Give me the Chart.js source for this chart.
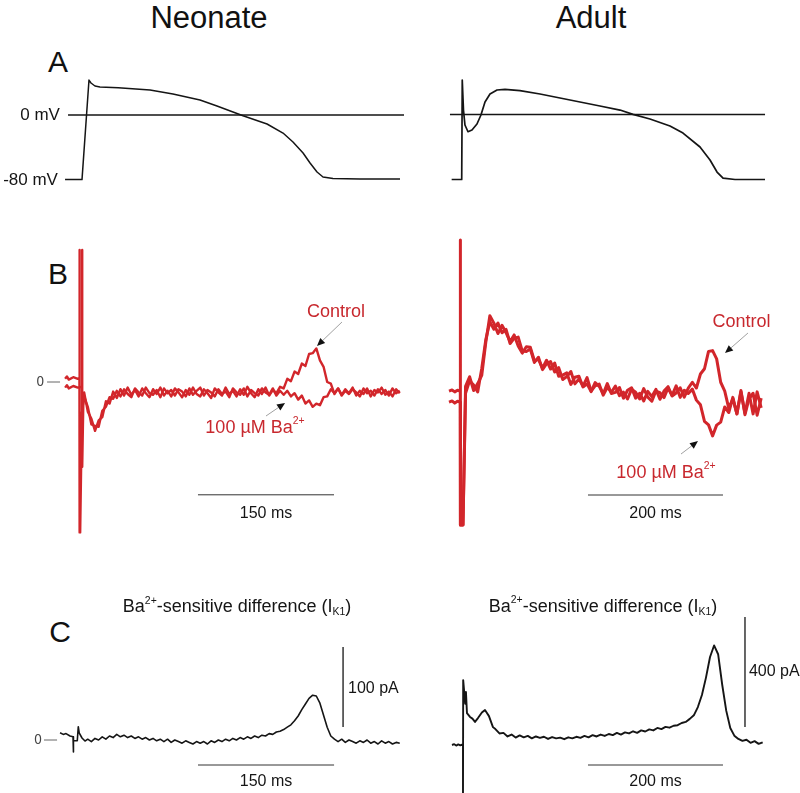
<!DOCTYPE html>
<html>
<head>
<meta charset="utf-8">
<script src="https://cdn.jsdelivr.net/npm/chart.js@4.4.1/dist/chart.umd.min.js"></script>
<style>
  body { margin: 0; background: #fff; width: 800px; height: 793px; position: relative; overflow: hidden;
         font-family: Arial, 'Liberation Sans', sans-serif; color: #111; }
  canvas { position: absolute; }
  .lbl { position: absolute; text-align: center; line-height: 36px; height: 36px; }
</style>
</head>
<body>
<div class="lbl" style="left:109px;top:0;width:200px;font-size:31px">Neonate</div>
<div class="lbl" style="left:491px;top:0;width:200px;font-size:31px">Adult</div>
<div class="lbl" style="left:38px;top:44px;width:40px;font-size:30px">A</div>
<div class="lbl" style="left:38px;top:256px;width:40px;font-size:30px">B</div>
<div class="lbl" style="left:40px;top:614px;width:40px;font-size:30px">C</div>

<canvas id="aNeo"></canvas>
<canvas id="aAdu"></canvas>
<canvas id="bNeo"></canvas>
<canvas id="bAdu"></canvas>
<canvas id="cNeo"></canvas>
<canvas id="cAdu"></canvas>

<script>
// ---- A: action potentials, [ms, mV] ----
const neoAP = [[-18.7,-79.5],[0,-79.5],[7.7,43],[9.9,39.4],[14.3,35.7],[19.8,34.5],[40,33.5],[75,30.8],
  [100.3,25.8],[130.1,18.5],[148.8,11.1],[177.5,-0.9],[204,-11.1],[221.6,-22.2],[232.6,-33.2],[243.7,-46.8],
  [251.4,-59.1],[259.1,-70.2],[265.7,-76.3],[276.7,-78.2],[306.5,-78.8],[350.6,-78.8]];
const aduAP = [[-15.3,-80],[-0.4,-80],[0.4,42.5],[2.2,5.5],[4.4,-12.9],[8.9,-21.2],[14.8,-19.1],[22.2,-11.7],
  [28.1,-0.6],[34.1,15.4],[41.5,25.2],[51.9,30.2],[63.7,31],[85.9,29.5],[115.6,25.2],[145.2,20.3],[174.8,15.4],
  [204.4,10.5],[234.1,5.5],[253.3,0.2],[278.5,-5.5],[308.1,-14.2],[327.4,-22.8],[352.6,-40],[367.4,-56],
  [377.8,-70.8],[386.7,-78.2],[404.4,-80],[448.9,-80]];
const neoZeroMV = [[-15.4,0],[355,0]];
const aduZeroMV = [[-17.8,0],[448.9,0]];

// ---- B: membrane current during AP clamp, [ms, pA] ----
// stimulus + pre-pulse segments, then traces sampled every 4 ms (neonate) / 6 ms (adult)
const neoCtrlStim = [[-17,4],[-15,7],[-13,3],[-8,6],[-3,4],[-1.2,5],[-1.2,165],[-0.8,-188],[-0.4,-188],[1.5,-40]];
const neoBaStim = [[-17,-7],[-15,-4],[-13,-8],[-8,-5],[-3,-7],[1.7,-6],[1.7,165],[2.0,-106],[3,-30]];
const neoSample = { t0: 4, dt: 4 };
const neoCtrl = [-13,-37,-46,-61,-48,-44,-24,-27,-12,-20,
  -9,-17,-7,-16,-10,-18,-8,-14,-19,-9,
  -15,-7,-17,-11,-18,-8,-13,-19,-10,-16,
  -7,-15,-18,-9,-14,-20,-8,-13,-17,-7,
  -15,-11,-18,-9,-16,-6,-14,-19,-9,-15,
  -7,-17,-10,-14,-6,-8,4,1,13,10,
  23,20,35,36,42,27,19,0,-2,-15,
  -8,-16,-9,-14,-7,-17,-11,-15,-8,-18,
  -10,-13,-7,-16,-12,-18,-9,-14];
const neoBa = [-18,-31,-53,-55,-56,-36,-31,-19,-21,-11,
  -18,-9,-15,-19,-8,-13,-17,-7,-14,-16,
  -10,-19,-8,-14,-10,-17,-9,-12,-18,-8,
  -16,-11,-7,-17,-10,-13,-18,-9,-15,-12,
  -19,-8,-13,-16,-8,-18,-10,-14,-17,-8,
  -13,-16,-8,-17,-11,-16,
  -11,-18,-14,-22,-17,-27,-23,-31,-27,-29,
  -19,-18,-9,-14,-8,-17,-11,-15,-9,-13,
  -18,-8,-14,-11,-17,-9,-15,-10,-17,-8,-14,-11];

const aduCtrlStim = [[-18.5,18],[-14,22],[-10,15],[-6,21],[-1.8,18],[-1.8,567],[-1.5,-469],[2.2,-469]];
const aduBaStim = [[-18.5,-22],[-14,-18],[-10,-26],[-6,-19],[-1.8,-22],[-1.5,-469],[2.2,-469]];
const aduSample = { t0: 6, dt: 6 };
const aduCtrl = [35,70,20,45,75,195,292,
  265,227,257,230,198,222,182,156,179,177,
  128,133,101,130,98,120,72,76,84,42,
  68,72,33,44,16,49,35,8,45,9,
  13,31,-8,21,30,-8,10,-18,17,-2,
  24,-12,18,34,0,11,30,-4,29,50,
  29,80,99,162,165,135,50,18,-45,-10,
  -65,20,-68,-10,10,-70,-8];
const aduBa = [10,55,40,15,100,205,270,
  243,265,230,242,191,210,214,164,162,171,
  122,141,96,118,125,87,103,60,71,89,
  44,62,36,67,18,37,43,3,32,13,
  36,1,14,-11,25,14,-11,27,-4,-19,
  18,12,-6,29,2,37,-5,21,9,25,
  -15,-32,-92,-105,-145,-106,-95,-40,-60,-5,
  -65,15,-63,10,-65,15,-43];

// ---- C: Ba2+-sensitive difference current, [ms, pA] ----
const neoDiffStim = [[-16.5,9],[-13,7],[-9.9,8],[-5.5,5],[-2.2,4],[-1.9,4],[-1.9,-15],[-1.4,-1],[2.5,-1],
  [3.6,16.6],[4.6,9],[7.7,2.5],[11,-1.3]];
const neoDiffSample = { t0: 14, dt: 4 };
const neoDiff = [1,-2,2,0,4,1,5,3,7,4,
  6,3,5,2,4,1,3,0,2,-1,
  1,-2,1,-3,0,-2,-4,-1,-3,-5,
  -2,-4,-2,-5,-1,-3,0,-2,1,-1,
  2,0,3,1,4,2,5,3,6,5,
  8,7,10,11,13,16,19,24,30,38,
  45,52,56,55,46,31,16,5,1,-2,
  1,-3,0,-2,-4,-1,-3,0,-4,-2,
  -5,-1,-4,-2,-5,-3,-4];
const aduDiffStim = [[-16.3,0],[-13,3],[-10,-2],[-7,2],[-4,-1],[-1.5,1],[0,0],[0,-200],[0.3,236],[3.3,150],
  [4.4,193],[5.9,116],[10.4,102],[14,96],[17.8,84],[22.2,98],[28,118],[32.6,127],[35,118],[38.5,105],[44.4,65]];
const aduDiffSample = { t0: 48, dt: 6 };
const aduDiff = [58,42,44,31,38,27,35,28,33,24,
  31,26,30,22,29,24,27,21,28,24,
  30,26,33,28,36,31,38,33,40,36,
  44,38,46,42,50,44,53,49,57,53,
  62,58,66,63,70,72,80,84,95,108,
  138,182,245,320,362,330,220,125,62,34,
  22,15,19,8,14,4,10];

// ---- scale bars & zero markers ----
const neoTimeBarB = [[129.5,-141],[279.5,-141]];   // 150 ms
const aduTimeBarB = [[187.4,-360],[387.4,-360]];   // 200 ms
const neoTimeBarC = [[135.6,-31.25],[285.6,-31.25]]; // 150 ms
const aduTimeBarC = [[185.2,-72.7],[385.2,-72.7]];   // 200 ms
const neoAmpBarC = [[295.5,16.25],[295.5,116.25]];   // 100 pA
const aduAmpBarC = [[417.8,65.5],[417.8,465.5]];     // 400 pA
const neoZeroB = [[-36.9,0],[-22.6,0]];
const neoZeroC = [[-34.2,0],[-19.8,0]];

// ---------------------------------------------------------------
const FONT = "Arial, 'Liberation Sans', sans-serif";
const NARROW = "'Liberation Sans Narrow', 'Arial Narrow', 'DejaVu Sans Condensed', sans-serif";
const RED = '#d2262b';
const RED_TXT = '#c8282e';
const INK = '#151515';

const pts = (arr) => arr.map(([x, y]) => ({ x, y }));
const sampled = (s, vals) => vals.map((y, i) => ({ x: s.t0 + i * s.dt, y }));

function line(data, color, width) {
  return { data, borderColor: color, borderWidth: width, pointRadius: 0, tension: 0, fill: false,
           borderJoinStyle: 'round' };
}

// text with optional super/subscript parts
function drawRich(ctx, parts, x, y, size, align, color, family) {
  const seg = parts.map((p) => {
    const s = (p.sup || p.sub) ? size * 0.58 : size;
    ctx.font = `${s}px ${family}`;
    return { ...p, s, w: ctx.measureText(p.t).width };
  });
  const total = seg.reduce((a, p) => a + p.w, 0);
  let cx = align === 'center' ? x - total / 2 : align === 'right' ? x - total : x;
  ctx.fillStyle = color;
  ctx.textBaseline = 'middle';
  ctx.textAlign = 'left';
  seg.forEach((p) => {
    ctx.font = `${p.s}px ${family}`;
    const dy = p.sup ? -size * 0.36 : p.sub ? size * 0.3 : 0;
    ctx.fillText(p.t, cx, y + dy);
    cx += p.w;
  });
}

// labels & arrows anchored at data coordinates
function notes(texts, arrows) {
  return {
    id: 'notes',
    afterDatasetsDraw(chart) {
      const { ctx, scales: { x, y } } = chart;
      ctx.save();
      (arrows || []).forEach((a) => {
        const x1 = x.getPixelForValue(a[0]), y1 = y.getPixelForValue(a[1]);
        const x2 = x.getPixelForValue(a[2]), y2 = y.getPixelForValue(a[3]);
        const ang = Math.atan2(y2 - y1, x2 - x1);
        const hx = x2 - 8 * Math.cos(ang), hy = y2 - 8 * Math.sin(ang);
        ctx.strokeStyle = '#a0a0a0';
        ctx.lineWidth = 1;
        ctx.beginPath(); ctx.moveTo(x1, y1); ctx.lineTo(hx, hy); ctx.stroke();
        ctx.fillStyle = '#111';
        ctx.beginPath();
        ctx.moveTo(x2, y2);
        ctx.lineTo(hx + 3.5 * Math.sin(ang), hy - 3.5 * Math.cos(ang));
        ctx.lineTo(hx - 3.5 * Math.sin(ang), hy + 3.5 * Math.cos(ang));
        ctx.closePath(); ctx.fill();
      });
      texts.forEach((t) => drawRich(ctx, t.parts, x.getPixelForValue(t.at[0]), y.getPixelForValue(t.at[1]),
        t.size, t.align || 'center', t.color || INK, t.family || FONT));
      ctx.restore();
    },
  };
}

// one borderless panel; box = [left, top, width, height] in page px
function panel(id, box, xr, yr, datasets, texts, arrows) {
  const c = document.getElementById(id);
  c.width = box[2]; c.height = box[3];
  Object.assign(c.style, { left: box[0] + 'px', top: box[1] + 'px', width: box[2] + 'px', height: box[3] + 'px' });
  return new Chart(c, {
    type: 'line',
    data: { datasets },
    options: {
      responsive: false,
      animation: false,
      events: [],
      layout: { padding: 0 },
      plugins: { legend: { display: false }, tooltip: { enabled: false } },
      scales: {
        x: { type: 'linear', display: false, min: xr[0], max: xr[1] },
        y: { type: 'linear', display: false, min: yr[0], max: yr[1] },
      },
    },
    plugins: [notes(texts, arrows)],
  });
}

const sup = (t) => ({ t, sup: true });
const sub = (t) => ({ t, sub: true });
const titleC = [{ t: 'Ba' }, sup('2+'), { t: '-sensitive difference (I' }, sub('K1'), { t: ')' }];
const baLabel = [{ t: '100 µM Ba' }, sup('2+')];

// A
panel('aNeo', [0, 40, 410, 160], [-90.4, 361.6], [-104.6, 92.3], [
  line(pts(neoZeroMV), INK, 1.3),
  line(pts(neoAP), INK, 1.5),
], [
  { parts: [{ t: '0 mV' }], at: [-24.3, 0], size: 17, align: 'right' },
  { parts: [{ t: '-80 mV' }], at: [-26.5, -80], size: 17, align: 'right' },
]);
panel('aAdu', [410, 40, 390, 160], [-77.0, 500.7], [-105.2, 91.7], [
  line(pts(aduZeroMV), INK, 1.3),
  line(pts(aduAP), INK, 1.7),
], []);

// B
panel('bNeo', [0, 230, 410, 310], [-88.8, 363.3], [-197.5, 190], [
  line(pts(neoZeroB), '#666', 1),
  line(pts(neoCtrlStim).concat(sampled(neoSample, neoCtrl)), RED, 2.4),
  line(pts(neoBaStim).concat(sampled(neoSample, neoBa)), RED, 2.4),
  line(pts(neoTimeBarB), '#333', 1),
], [
  { parts: [{ t: '0' }], at: [-44.3, 0], size: 14, color: '#444', family: NARROW },
  { parts: [{ t: 'Control' }], at: [281.7, 87.5], size: 18, color: RED_TXT },
  { parts: baLabel, at: [192.4, -57.5], size: 18, color: RED_TXT },
  { parts: [{ t: '150 ms' }], at: [204.5, -164], size: 16 },
], [
  [288.3, 75, 260.7, 45],
  [204.5, -42.5, 225.5, -26.25],
]);
panel('bAdu', [410, 230, 390, 310], [-76.3, 501.5], [-523.6, 603.6], [
  line(pts(aduCtrlStim).concat(sampled(aduSample, aduCtrl)), RED, 3),
  line(pts(aduBaStim).concat(sampled(aduSample, aduBa)), RED, 3),
  line(pts(aduTimeBarB), '#333', 1),
], [
  { parts: [{ t: 'Control' }], at: [414.8, 269], size: 18, color: RED_TXT },
  { parts: baLabel, at: [303, -280], size: 18, color: RED_TXT },
  { parts: [{ t: '200 ms' }], at: [287.4, -429], size: 16 },
], [
  [424.4, 229, 390.4, 156],
  [325.2, -211, 350.4, -164],
]);

// C
panel('cNeo', [0, 590, 410, 203], [-82.7, 369.3], [-66.25, 187.5], [
  line(pts(neoZeroC), '#666', 1),
  line(pts(neoDiffStim).concat(sampled(neoDiffSample, neoDiff)), INK, 1.6),
  line(pts(neoTimeBarC), '#333', 1),
  line(pts(neoAmpBarC), INK, 1.3),
], [
  { parts: titleC, at: [178.6, 166], size: 18 },
  { parts: [{ t: '0' }], at: [-40.8, 0], size: 14, color: '#444', family: NARROW },
  { parts: [{ t: '100 pA' }], at: [301, 63.75], size: 16, align: 'left' },
  { parts: [{ t: '150 ms' }], at: [210.6, -52.5], size: 16 },
]);
panel('cAdu', [410, 590, 390, 203], [-78.5, 499.3], [-174.5, 563.6], [
  line(pts(aduDiffStim).concat(sampled(aduDiffSample, aduDiff)), INK, 1.9),
  line(pts(aduTimeBarC), '#333', 1),
  line(pts(aduAmpBarC), INK, 1.3),
], [
  { parts: titleC, at: [207.4, 501.8], size: 18 },
  { parts: [{ t: '400 pA' }], at: [423.7, 265.5], size: 16, align: 'left' },
  { parts: [{ t: '200 ms' }], at: [285.2, -134.5], size: 16 },
]);
</script>
</body>
</html>
